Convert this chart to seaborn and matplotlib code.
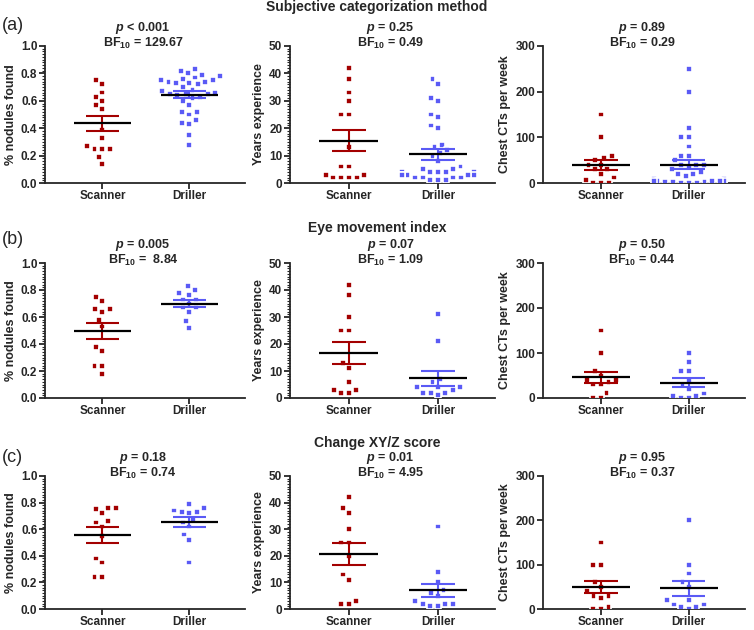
import numpy as np
import pandas as pd
import matplotlib
matplotlib.use("Agg")
import matplotlib.pyplot as plt
from matplotlib.ticker import MultipleLocator
import seaborn as sns

# ---- data ------------------------------------------------------------------
groups = ["Scanner", "Driller"]
rows = ["Subjective categorization method", "Eye movement index", "Change XY/Z score"]
row_tags = ["(a)", "(b)", "(c)"]
ylabels = ["% nodules found", "Years experience", "Chest CTs per week"]

# (a) subjective categorization
a_nod_scan = [0.75, 0.72, 0.66, 0.63, 0.60, 0.57, 0.54, 0.39, 0.33, 0.27, 0.25, 0.25, 0.25, 0.19, 0.14]
a_nod_drill = [0.83, 0.82, 0.80, 0.79, 0.78, 0.77, 0.76, 0.75, 0.75, 0.74, 0.74, 0.73, 0.73, 0.72,
               0.70, 0.68, 0.67, 0.66, 0.65, 0.65, 0.65, 0.64, 0.63, 0.62, 0.60, 0.57, 0.52, 0.52,
               0.50, 0.46, 0.44, 0.43, 0.35, 0.28]
a_yrs_scan = [42, 38, 33, 30, 25, 25, 13, 6, 6, 3, 2, 2, 3, 2, 2]
a_yrs_drill = [38, 36, 31, 30, 25, 24, 21, 20, 14, 13, 12, 11, 10, 8, 6, 5, 5, 4, 4, 4, 4, 4,
               3, 3, 3, 3, 3, 2, 2, 2, 2, 1, 1, 1]
a_ct_scan = [150, 100, 60, 55, 50, 40, 40, 30, 30, 20, 12, 7, 0, 0, 0]
a_ct_drill = [250, 200, 120, 100, 100, 80, 60, 60, 50, 40, 40, 40, 35, 30, 25, 20, 20, 15,
              10, 10, 10, 8, 8, 5, 5, 5, 5, 5, 3, 2, 2, 0, 0, 0]

# (b) eye movement index
b_nod_scan = [0.75, 0.72, 0.66, 0.66, 0.64, 0.58, 0.53, 0.38, 0.35, 0.24, 0.24, 0.18]
b_nod_drill = [0.83, 0.80, 0.78, 0.76, 0.73, 0.73, 0.70, 0.67, 0.67, 0.64, 0.57, 0.52]
b_yrs_scan = [42, 38, 30, 25, 25, 13, 11, 6, 3, 3, 2, 2]
b_yrs_drill = [31, 21, 7, 6, 4, 4, 4, 3, 2, 2, 2, 1]
b_ct_scan = [150, 100, 60, 50, 40, 40, 35, 30, 30, 12, 0, 0]
b_ct_drill = [100, 80, 60, 60, 40, 30, 20, 10, 5, 5, 0, 0]

# (c) change XY/Z score
c_nod_scan = [0.76, 0.76, 0.75, 0.72, 0.66, 0.65, 0.62, 0.55, 0.38, 0.35, 0.24, 0.24]
c_nod_drill = [0.79, 0.76, 0.74, 0.73, 0.73, 0.72, 0.67, 0.65, 0.62, 0.56, 0.52, 0.35]
c_yrs_scan = [42, 38, 36, 30, 25, 25, 20, 13, 11, 3, 2, 2]
c_yrs_drill = [31, 14, 10, 7, 6, 5, 3, 2, 2, 2, 1, 1]
c_ct_scan = [150, 100, 100, 60, 50, 40, 30, 30, 25, 5, 0, 0]
c_ct_drill = [200, 100, 80, 60, 50, 20, 20, 10, 10, 5, 5, 0]

p_texts = [["< 0.001", "= 0.25", "= 0.89"],
           ["= 0.005", "= 0.07", "= 0.50"],
           ["= 0.18", "= 0.01", "= 0.95"]]
bf_texts = [["129.67", "0.49", "0.29"],
            [" 8.84", "1.09", "0.44"],
            ["0.74", "4.95", "0.37"]]

panels = [[(a_nod_scan, a_nod_drill), (a_yrs_scan, a_yrs_drill), (a_ct_scan, a_ct_drill)],
          [(b_nod_scan, b_nod_drill), (b_yrs_scan, b_yrs_drill), (b_ct_scan, b_ct_drill)],
          [(c_nod_scan, c_nod_drill), (c_yrs_scan, c_yrs_drill), (c_ct_scan, c_ct_drill)]]

# ---- style -------------------------------------------------------------------
sns.set_style("ticks")
plt.rcParams['font.family'] = ['Liberation Sans', 'DejaVu Sans']
plt.rcParams['mathtext.fontset'] = 'custom'
plt.rcParams['mathtext.rm'] = 'Liberation Sans:bold'
plt.rcParams['mathtext.it'] = 'Liberation Sans:italic:bold'
plt.rcParams['mathtext.bf'] = 'Liberation Sans:bold'

RED = "#A30000"
BLUE = "#5A5AF5"
palette = {"Scanner": RED, "Driller": BLUE}

W, H = 754, 630
fig = plt.figure(figsize=(W / 100, H / 100), dpi=100)

col_x = [(45, 245), (290, 495), (543, 745)]
row_y = [(46, 183), (263, 398), (476, 609)]
title_y = [7, 228, 443]
tag_y = [25, 240, 457]
ylims = [(0, 1.0), (0, 50), (0, 300)]
ymajor = [0.2, 10, 100]
yminor = [0.02, 1, None]


def fx(px):
    return px / W


def fy(py):
    return 1 - py / H


for r in range(3):
    fig.text(0.5, fy(title_y[r]), rows[r], ha="center", va="center",
             fontsize=10, fontweight="bold")
    fig.text(fx(2), fy(tag_y[r]), row_tags[r], ha="left", va="center", fontsize=13)
    for c in range(3):
        x0, x1 = col_x[c]
        y0, y1 = row_y[r]
        ax = fig.add_axes([fx(x0), fy(y1), fx(x1) - fx(x0), fy(y0) - fy(y1)])
        scan, drill = panels[r][c]
        df = pd.DataFrame({"group": ["Scanner"] * len(scan) + ["Driller"] * len(drill),
                           "value": list(scan) + list(drill)})
        # white edge keeps the squares small but spaces them out like the original
        sns.swarmplot(data=df, x="group", y="value", hue="group", palette=palette,
                      order=groups, marker="s", size=4.2, linewidth=1.2,
                      edgecolor="white", legend=False, ax=ax)
        # mean + SEM
        for i, vals in enumerate([scan, drill]):
            v = np.asarray(vals, dtype=float)
            m = v.mean()
            se = v.std(ddof=1) / np.sqrt(len(v))
            col = RED if i == 0 else BLUE
            ax.vlines(i, m - se, m + se, color=col, lw=1.5, zorder=4)
            ax.hlines([m - se, m + se], i - 0.19, i + 0.19, color=col, lw=1.5, zorder=4)
            ax.hlines(m, i - 0.33, i + 0.33, color="black", lw=1.6, zorder=5)

        ax.set_xlim(-0.66, 1.64)
        ax.set_ylim(*ylims[c])
        ax.yaxis.set_major_locator(MultipleLocator(ymajor[c]))
        if yminor[c] is not None:
            ax.yaxis.set_minor_locator(MultipleLocator(yminor[c]))
        if c == 0:
            ax.yaxis.set_major_formatter(matplotlib.ticker.FormatStrFormatter("%.1f"))
        ax.set_xlabel("")
        ax.set_ylabel(ylabels[c], fontsize=9, fontweight="bold", labelpad=3)
        ax.tick_params(axis="both", which="major", length=4, width=1.3, labelsize=8.5,
                       pad=1.5)
        ax.tick_params(axis="x", which="major", pad=1)
        ax.tick_params(axis="y", which="minor", length=2, width=0.8)
        for lab in ax.get_xticklabels() + ax.get_yticklabels():
            lab.set_fontweight("bold")
        sns.despine(ax=ax)
        ax.spines["left"].set_linewidth(1.3)
        ax.spines["bottom"].set_linewidth(1.3)
        ax.set_facecolor("none")

        cx = fx((x0 + x1) / 2 - 2)
        fig.text(cx, fy(y0 - 18), r"$p$ " + p_texts[r][c], ha="center", va="center",
                 fontsize=9, fontweight="bold")
        fig.text(cx, fy(y0 - 3), r"BF$_{10}$ = " + bf_texts[r][c], ha="center",
                 va="center", fontsize=9, fontweight="bold")

fig.savefig("out.png", dpi=100)
